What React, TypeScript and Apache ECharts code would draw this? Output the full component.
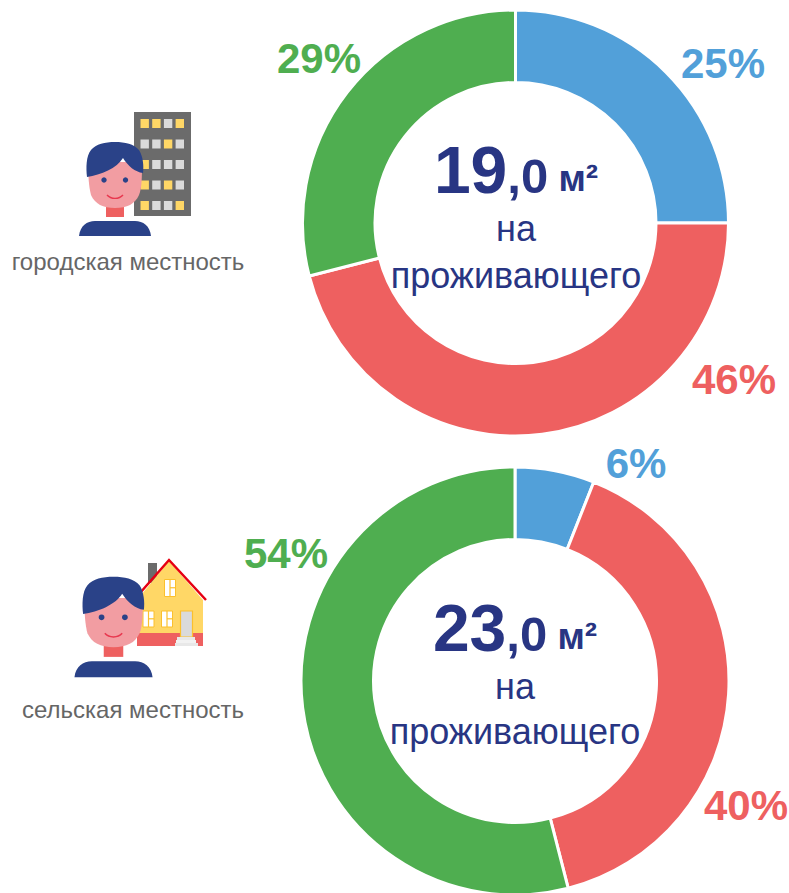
import React, { useEffect, useRef } from "react";
import * as echarts from "echarts";

const sliceNames = ["синий", "красный", "зелёный"];
const urbanValues = [25, 46, 29];
const ruralValues = [6, 40, 54];
const colors = ["#52A0D9", "#EE6060", "#4FAE50"];
const NAVY = "#283583";
const GREY = "#666666";
const urbanArea = ["19", ",0"];
const ruralArea = ["23", ",0"];
const unit = " м²";
const perLine1 = "на";
const perLine2 = "проживающего";
const urbanLabel = "городская местность";
const ruralLabel = "сельская местность";

const labelPositions = [
  [[723, 63], [734, 379], [319, 58]],
  [[636, 463], [746, 805], [286, 553]],
];

echarts.graphic.registerShape(
  "hair",
  echarts.graphic.extendPath(
    "M-28 -13 C-29 -22 -29 -34 -24 -40 C-19 -46 -10 -48 0 -48 C10 -48 19 -46 24 -40 C28 -34 29 -24 28 -17 C20 -18 13 -24 8 -32 C2 -22 -14 -15 -28 -13 Z",
    {}
  )
);
echarts.graphic.registerShape(
  "face",
  echarts.graphic.extendPath(
    "M-27 -28 L27 -28 C27 -15 27 -2 24 5 C20 14 12 18 0 18 C-12 18 -20 14 -24 5 C-26 -2 -27 -15 -27 -28 Z",
    {}
  )
);
echarts.graphic.registerShape(
  "shoulders",
  echarts.graphic.extendPath("M-36 46 C-35 36 -28 31 -20 31 L20 31 C28 31 35 36 36 46 Z", {})
);
echarts.graphic.registerShape(
  "smile",
  echarts.graphic.extendPath("M-8 5 C-4 9.5 4 9.5 8 5", {})
);

function person(x: number, y: number, sx: number, sy: number) {
  return {
    type: "group",
    x,
    y,
    scaleX: sx,
    scaleY: sy,
    children: [
      { type: "rect", shape: { x: -9, y: 16, width: 18, height: 11 }, style: { fill: "#EE6060" } },
      { type: "shoulders", style: { fill: "#2A4288" } },
      { type: "face", style: { fill: "#F29DA2" } },
      { type: "hair", style: { fill: "#2A4288" } },
      { type: "circle", shape: { cx: -11, cy: -10, r: 2.7 }, style: { fill: "#2A4288" } },
      { type: "circle", shape: { cx: 10.5, cy: -10, r: 2.7 }, style: { fill: "#2A4288" } },
      { type: "smile", style: { fill: "none", stroke: "#E8384F", lineWidth: 1.4 } },
    ],
  };
}

const bldRows = ["YYGY", "GGYG", "YGGG", "YGYG", "YGGY"];
function building() {
  const windows: any[] = [];
  bldRows.forEach((row, r) => {
    row.split("").forEach((c, i) => {
      windows.push({
        type: "rect",
        shape: { x: 140.5 + i * 11.7, y: 119 + r * 20.5, width: 8.4, height: 9 },
        style: { fill: c === "Y" ? "#FFD766" : "#DADADA" },
      });
    });
  });
  return [
    { type: "rect", shape: { x: 134, y: 112, width: 57, height: 104 }, style: { fill: "#6B6B6B" } },
    ...windows,
  ];
}

function houseWindow(x: number, y: number, w: number, h: number) {
  return [
    { type: "rect", shape: { x, y, width: w, height: h }, style: { fill: "#FFFFFF", stroke: "#FBC02D", lineWidth: 1 } },
    { type: "rect", shape: { x: x + w / 2 - 0.6, y, width: 1.2, height: h }, style: { fill: "#FBC02D" } },
    { type: "rect", shape: { x: x + w / 2, y: y + h * 0.45, width: w / 2, height: 1.2 }, style: { fill: "#FBC02D" } },
  ];
}

function house() {
  return [
    { type: "rect", shape: { x: 148, y: 563, width: 9, height: 20 }, style: { fill: "#6B6B6B" } },
    { type: "polygon", shape: { points: [[137, 600], [169, 561], [203, 600], [203, 634], [137, 634]] }, style: { fill: "#FFD766" } },
    { type: "rect", shape: { x: 137, y: 633, width: 66, height: 13 }, style: { fill: "#EE6060" } },
    { type: "polyline", shape: { points: [[140, 593], [169, 560], [206, 600]] }, style: { fill: "none", stroke: "#E60012", lineWidth: 2.5 } },
    ...houseWindow(164.5, 579.5, 11, 17),
    ...houseWindow(143, 611, 11, 16),
    ...houseWindow(161.5, 611, 11, 16),
    { type: "rect", shape: { x: 180.5, y: 611, width: 12, height: 26 }, style: { fill: "#DADADA", stroke: "#FBC02D", lineWidth: 1.2 } },
    { type: "rect", shape: { x: 177, y: 637, width: 18, height: 3 }, style: { fill: "#E8E8E8" } },
    { type: "rect", shape: { x: 176, y: 640, width: 20, height: 3 }, style: { fill: "#F2F2F2" } },
    { type: "rect", shape: { x: 175, y: 643, width: 23, height: 3 }, style: { fill: "#E8E8E8" } },
  ];
}

function centerTexts(cx: number, yTop: number, yNa: number, yLong: number, area: string[]) {
  const rich = {
    a: { font: "bold 66px 'Liberation Sans'", fill: NAVY, verticalAlign: "bottom" },
    b: { font: "bold 49px 'Liberation Sans'", fill: NAVY, verticalAlign: "bottom", padding: [0, 0, 3, 0] },
    c: { font: "bold 37px 'Liberation Sans'", fill: NAVY, verticalAlign: "bottom", padding: [0, 0, 6, 0] },
  };
  return [
    {
      type: "text",
      x: cx,
      y: yTop,
      style: { text: `{a|${area[0]}}{b|${area[1]}}{c|${unit}}`, rich, align: "center", verticalAlign: "middle" },
    },
    {
      type: "text",
      x: cx,
      y: yNa,
      style: { text: perLine1, font: "36px 'Liberation Sans'", fill: NAVY, align: "center", verticalAlign: "middle" },
    },
    {
      type: "text",
      x: cx,
      y: yLong,
      style: { text: perLine2, font: "36px 'Liberation Sans'", fill: NAVY, align: "center", verticalAlign: "middle" },
    },
  ];
}

function pie(values: number[], center: number[], inner: number, outer: number, idx: number) {
  return {
    type: "pie",
    center,
    radius: [inner, outer],
    startAngle: 90,
    clockwise: true,
    avoidLabelOverlap: false,
    silent: true,
    itemStyle: { borderColor: "#FFFFFF", borderWidth: 3 },
    label: {
      show: true,
      position: "outside",
      formatter: "{c}%",
      fontFamily: "'Liberation Sans'",
      fontWeight: "bold",
      fontSize: 42,
    },
    labelLine: { show: false },
    labelLayout: (p: any) => {
      const pos = labelPositions[idx][p.dataIndex];
      return { x: pos[0], y: pos[1], align: "center", verticalAlign: "middle" };
    },
    data: values.map((value, i) => ({
      name: sliceNames[i],
      value,
      itemStyle: { color: colors[i] },
      label: { color: colors[i] },
    })),
  };
}

export default function App() {
  const ref = useRef<HTMLDivElement>(null);
  useEffect(() => {
    const chart = echarts.init(ref.current!, undefined, { renderer: "svg" });
    chart.setOption({
      animation: false,
      backgroundColor: "#FFFFFF",
      series: [pie(urbanValues, [515.5, 223], 140.5, 213, 0), pie(ruralValues, [515, 681], 141.5, 214, 1)],
      graphic: [
        ...centerTexts(516, 170, 228, 275, urbanArea),
        ...centerTexts(515, 628, 686, 731, ruralArea),
        ...building(),
        person(115, 190, 1, 1),
        ...house(),
        person(113.5, 628, 1.085, 1.07),
        {
          type: "text",
          x: 128,
          y: 261,
          style: { text: urbanLabel, font: "24px 'Liberation Sans'", fill: GREY, align: "center", verticalAlign: "middle" },
        },
        {
          type: "text",
          x: 133,
          y: 709,
          style: { text: ruralLabel, font: "24px 'Liberation Sans'", fill: GREY, align: "center", verticalAlign: "middle" },
        },
      ],
    });
    return () => chart.dispose();
  }, []);
  return <div ref={ref} style={{ position: "absolute", left: 0, top: 0, width: 789, height: 893 }} />;
}
